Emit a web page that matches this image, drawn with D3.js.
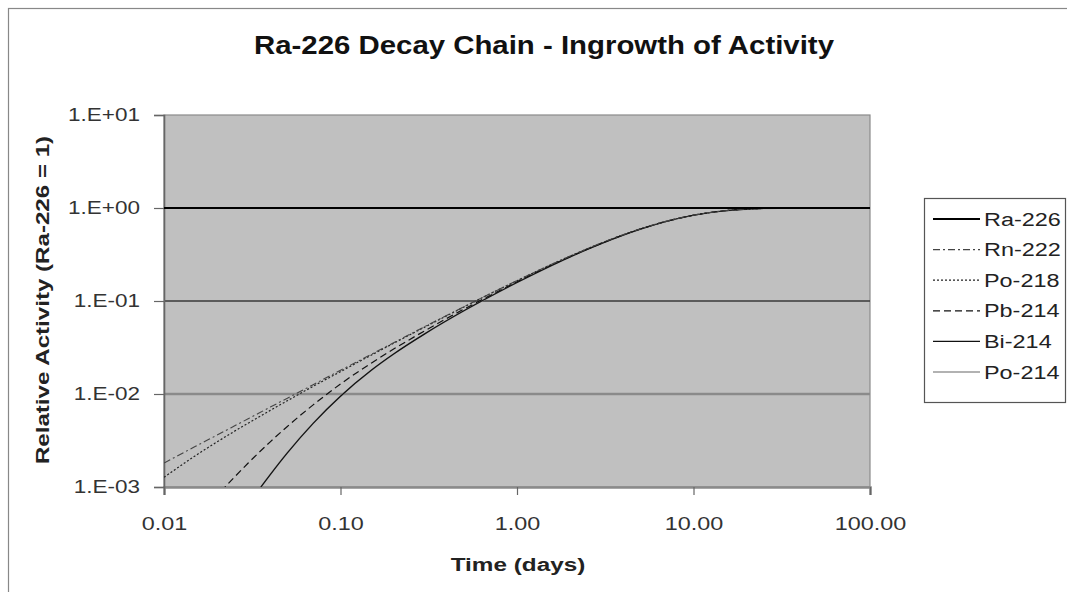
<!DOCTYPE html>
<html><head><meta charset="utf-8">
<script src="https://cdn.jsdelivr.net/npm/d3@7"></script>
<style>body{margin:0;background:#fff}text{font-family:"Liberation Sans",Arial,sans-serif}</style>
</head><body>
<svg id="c" width="1067" height="592"></svg>
<script>
// ---- data ----
const times  = [0.01,0.015,0.02,0.025,0.03,0.04,0.05,0.07,0.1,0.15,0.2,0.3,0.5,0.7,1,1.5,2,3,5,7,10,15,20,30];
const raTimes = [0.01,100];
const ra226 = [1,1];
const rn222 = [0.00181,0.00272,0.00362,0.00452,0.00542,0.00723,0.00902,0.0126,0.0180,0.0268,0.0356,0.0530,0.0867,0.119,0.166,0.238,0.304,0.420,0.596,0.719,0.837,0.934,0.973,0.996];
const po218 = [0.00127,0.00216,0.00306,0.00396,0.00486,0.00667,0.00847,0.0121,0.0174,0.0263,0.0351,0.0524,0.0861,0.119,0.165,0.238,0.304,0.419,0.596,0.719,0.837,0.934,0.973,0.996];
const pb214 = [0.00017,0.00044,0.00081,0.00127,0.00181,0.00306,0.00448,0.00764,0.0128,0.0216,0.0304,0.0478,0.0817,0.114,0.161,0.234,0.300,0.416,0.594,0.717,0.836,0.934,0.973,0.996];
const bi214 = [0.000024,0.000085,0.000203,0.000389,0.000647,0.00136,0.00233,0.00484,0.00947,0.0181,0.0269,0.0443,0.0784,0.111,0.158,0.231,0.298,0.414,0.592,0.716,0.835,0.934,0.973,0.996];
const po214 = [0.000024,0.000085,0.000203,0.000389,0.000647,0.00136,0.00233,0.00484,0.00947,0.0181,0.0269,0.0443,0.0784,0.111,0.158,0.231,0.298,0.414,0.592,0.716,0.835,0.934,0.973,0.996];
const seriesNames = ["Ra-226","Rn-222","Po-218","Pb-214","Bi-214","Po-214"];
const xTicks = [0.01,0.1,1,10,100];
const xTickLabels = ["0.01","0.10","1.00","10.00","100.00"];
const yTicks = [0.001,0.01,0.1,1,10];
const yTickLabels = ["1.E-03","1.E-02","1.E-01","1.E+00","1.E+01"];
const titleText = "Ra-226 Decay Chain - Ingrowth of Activity";
const xTitle = "Time (days)";
const yTitle = "Relative Activity (Ra-226 = 1)";

// ---- styles ----
const styles = {
  "Ra-226": {stroke:"#000", width:2.2, dash:null},
  "Rn-222": {stroke:"#444", width:1.1, dash:"7,3,2,3"},
  "Po-218": {stroke:"#222", width:1.2, dash:"2,2"},
  "Pb-214": {stroke:"#111", width:1.2, dash:"7,4"},
  "Bi-214": {stroke:"#111", width:1.2, dash:null},
  "Po-214": {stroke:"#999", width:1.6, dash:null}
};
const seriesData = {
  "Ra-226": raTimes.map((t,i)=>[t,ra226[i]]),
  "Rn-222": times.map((t,i)=>[t,rn222[i]]),
  "Po-218": times.map((t,i)=>[t,po218[i]]),
  "Pb-214": times.map((t,i)=>[t,pb214[i]]),
  "Bi-214": times.map((t,i)=>[t,bi214[i]]),
  "Po-214": times.map((t,i)=>[t,po214[i]])
};

const svg = d3.select("#c");
const P = {l:164, r:870, t:115, b:487};
const x = d3.scaleLog().domain([0.01,100]).range([P.l,P.r]);
const y = d3.scaleLog().domain([0.001,10]).range([P.b,P.t]);

function stretch(sel,k){
  sel.each(function(){
    const w=this.getComputedTextLength();
    d3.select(this).attr("textLength",w*k).attr("lengthAdjust","spacingAndGlyphs");
  });
}

// outer chart border
svg.append("rect").attr("x",8.5).attr("y",8.5).attr("width",1100).attr("height",700)
  .attr("fill","#fff").attr("stroke","#888").attr("stroke-width",1.2);

// title
svg.append("text").attr("x",544).attr("y",54).attr("text-anchor","middle")
  .attr("font-size",25).attr("font-weight","bold").attr("fill","#111").text(titleText)
  .call(stretch,1.175);

// plot area
svg.append("rect").attr("x",P.l).attr("y",P.t).attr("width",P.r-P.l).attr("height",P.b-P.t)
  .attr("fill","#c0c0c0").attr("stroke","#8a8a8a").attr("stroke-width",1.2);

// gridlines
const gridStyle = {0.1:{c:"#3a3a3a",w:1.4},0.01:{c:"#8a8a8a",w:2.6},1:{c:"#222",w:1.2}};
svg.append("g").selectAll("line").data([1,0.1,0.01]).join("line")
  .attr("x1",P.l).attr("x2",P.r).attr("y1",d=>y(d)).attr("y2",d=>y(d))
  .attr("stroke",d=>gridStyle[d].c).attr("stroke-width",d=>gridStyle[d].w);

// axes
const xAxis = svg.append("g").attr("transform",`translate(0,${P.b})`)
  .call(d3.axisBottom(x).tickValues(xTicks).tickFormat((d,i)=>xTickLabels[i]).tickSize(8).tickPadding(22));
xAxis.select(".domain").attr("stroke","#8a8a8a").attr("stroke-width",2.6);
xAxis.selectAll(".tick line").attr("stroke","#666").attr("stroke-width",1.2);
xAxis.selectAll(".tick text").attr("font-size",18).attr("fill","#333").attr("font-family","Liberation Sans, Arial, sans-serif").call(stretch,1.3);

const yAxis = svg.append("g").attr("transform",`translate(${P.l},0)`)
  .call(d3.axisLeft(y).tickValues(yTicks).tickFormat((d,i)=>yTickLabels[i]).tickSize(10).tickPadding(14));
yAxis.select(".domain").attr("stroke","#666").attr("stroke-width",1.6);
yAxis.selectAll(".tick line").attr("stroke","#666").attr("stroke-width",1.2);
yAxis.selectAll(".tick text").attr("font-size",18).attr("fill","#333").attr("font-family","Liberation Sans, Arial, sans-serif").call(stretch,1.25);

// clip
svg.append("clipPath").attr("id","clip").append("rect")
  .attr("x",P.l).attr("y",P.t).attr("width",P.r-P.l).attr("height",P.b-P.t);

const line = d3.line().x(d=>x(d[0])).y(d=>y(d[1])).curve(d3.curveMonotoneX);
const drawOrder = ["Po-214","Bi-214","Pb-214","Po-218","Rn-222","Ra-226"];
const gl = svg.append("g").attr("clip-path","url(#clip)");
drawOrder.forEach(n=>{
  const s=styles[n];
  gl.append("path").datum(seriesData[n]).attr("d",line).attr("fill","none")
    .attr("stroke",s.stroke).attr("stroke-width",s.width)
    .attr("stroke-dasharray",s.dash);
});

// axis titles
svg.append("text").attr("x",518).attr("y",571).attr("text-anchor","middle")
  .attr("font-size",18).attr("font-weight","bold").attr("fill","#222").text(xTitle).call(stretch,1.35);
svg.append("text").attr("transform","translate(49,300) rotate(-90)").attr("text-anchor","middle")
  .attr("font-size",18).attr("font-weight","bold").attr("fill","#222").text(yTitle).call(stretch,1.34);

// legend
const L = svg.append("g");
L.append("rect").attr("x",924.5).attr("y",198.5).attr("width",141).attr("height",204)
  .attr("fill","#fff").attr("stroke","#555").attr("stroke-width",1.2);
seriesNames.forEach((n,i)=>{
  const yy = 219 + i*30.6;
  const s=styles[n];
  L.append("line").attr("x1",933).attr("x2",980).attr("y1",yy).attr("y2",yy)
    .attr("stroke",s.stroke).attr("stroke-width",s.width).attr("stroke-dasharray",s.dash);
  L.append("text").attr("x",984).attr("y",yy+6.5).attr("font-size",18).attr("fill","#222").text(n).call(stretch,1.3);
});
</script>
</body></html>
